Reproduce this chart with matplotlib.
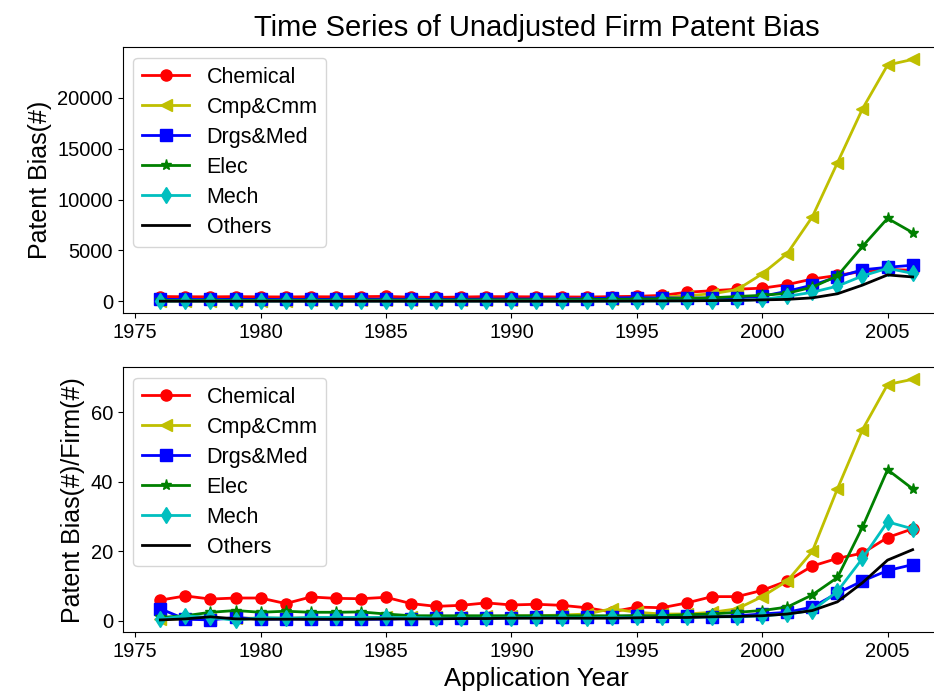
import numpy as np
import matplotlib
matplotlib.use("Agg")
import matplotlib.pyplot as plt

plt.rcParams['font.family'] = ['Liberation Sans', 'DejaVu Sans']

years = list(range(1976, 2007))
labels = ["Chemical", "Cmp&Cmm", "Drgs&Med", "Elec", "Mech", "Others"]

# top panel: patent bias counts
chem_top = [480, 460, 450, 470, 450, 440, 460, 450, 470, 490, 420, 400, 430, 470, 460,
            450, 440, 430, 470, 500, 590, 900, 1050, 1200, 1300, 1650, 2200, 2550, 2950, 3150, 3050]
cmp_top = [60, 60, 70, 80, 80, 80, 90, 100, 110, 120, 120, 130, 140, 160, 170,
           190, 210, 240, 280, 330, 420, 560, 750, 1150, 2700, 4700, 8300, 13600, 18900, 23200, 23750]
drg_top = [200, 190, 190, 200, 200, 190, 200, 200, 210, 220, 210, 200, 210, 230, 240,
           240, 250, 260, 330, 380, 350, 320, 330, 350, 500, 1000, 1600, 2400, 3100, 3350, 3550]
elec_top = [100, 100, 110, 110, 110, 110, 120, 120, 130, 130, 130, 130, 140, 150, 160,
            170, 180, 190, 210, 230, 260, 300, 360, 480, 600, 800, 1400, 2500, 5400, 8150, 6750]
mech_top = [40, 40, 40, 40, 40, 40, 40, 40, 40, 40, 40, 40, 40, 40, 40,
            40, 40, 40, 40, 40, 50, 60, 80, 100, 200, 500, 900, 1500, 2500, 3250, 2750]
oth_top = [20, 20, 20, 20, 20, 20, 20, 20, 20, 20, 20, 20, 20, 20, 20,
           20, 20, 20, 30, 40, 50, 60, 80, 100, 150, 200, 350, 750, 1600, 2600, 2400]

# bottom panel: patent bias per firm
chem_b = [6.0, 7.2, 6.3, 6.6, 6.6, 5.0, 6.9, 6.5, 6.4, 6.8, 5.0, 4.2, 4.5, 5.2, 4.6,
          4.8, 4.5, 3.8, 2.6, 4.0, 3.8, 5.2, 7.0, 7.0, 8.8, 11.5, 15.8, 18.0, 19.5, 24.0, 26.5]
cmp_b = [0.5, 0.6, 0.7, 0.8, 0.8, 0.8, 0.9, 0.9, 1.0, 1.0, 1.0, 1.1, 1.2, 1.3, 1.4,
         1.5, 1.7, 2.0, 3.5, 2.5, 2.0, 2.0, 2.5, 3.5, 7.0, 11.5, 20.0, 38.0, 55.0, 68.0, 69.5]
drg_b = [3.5, 0.5, 0.3, 1.0, 0.5, 0.6, 0.5, 0.5, 0.5, 0.5, 0.7, 0.8, 0.8, 0.9, 0.9,
         1.0, 1.0, 1.0, 1.2, 1.5, 1.3, 1.3, 1.2, 1.5, 2.0, 2.5, 4.0, 8.0, 11.5, 14.5, 16.2]
elec_b = [1.0, 1.5, 2.5, 3.0, 2.5, 2.8, 2.5, 2.5, 2.6, 2.0, 1.5, 1.5, 1.5, 1.5, 1.5,
          1.5, 1.5, 1.5, 1.5, 1.5, 1.5, 1.8, 2.0, 2.5, 3.0, 4.0, 7.5, 12.5, 27.0, 43.5, 38.0]
mech_b = [0.5, 1.5, 1.0, 0.2, 1.0, 0.8, 1.0, 1.0, 1.0, 1.0, 1.0, 0.8, 0.8, 0.8, 0.9,
          0.9, 0.9, 0.9, 1.0, 1.0, 1.0, 1.0, 1.2, 1.2, 1.5, 2.0, 3.0, 8.5, 18.0, 28.5, 26.5]
oth_b = [0.3, 0.6, 1.2, 0.6, 0.5, 0.5, 0.5, 0.5, 0.5, 0.6, 0.6, 0.6, 0.7, 0.7, 0.8,
         0.8, 0.8, 0.8, 0.8, 0.9, 1.0, 1.0, 1.2, 1.3, 1.5, 2.0, 3.0, 5.5, 11.0, 17.5, 20.5]

styles = [("r", "o"), ("y", "<"), ("b", "s"), ("g", "*"), ("c", "d"), ("k", None)]

fig = plt.figure(figsize=(9.34, 6.97), dpi=100)
# the original is cut off on the right, so the axes run past the figure edge
ax1 = fig.add_axes([0.1314, 0.5505, 0.886, 0.3816])
ax2 = fig.add_axes([0.1314, 0.0928, 0.886, 0.3803])

top_series = [chem_top, cmp_top, drg_top, elec_top, mech_top, oth_top]
bot_series = [chem_b, cmp_b, drg_b, elec_b, mech_b, oth_b]

for ax, series in [(ax1, top_series), (ax2, bot_series)]:
    for vals, lab, (col, mk) in zip(series, labels, styles):
        ax.plot(years, vals, color=col, marker=mk, markersize=8, linewidth=2, label=lab)
    ax.tick_params(labelsize=14.5)
    ax.legend(loc="upper left", fontsize=15.5, labelspacing=0.42, handlelength=2.2)

ax1.set_ylabel("Patent Bias(#)", fontsize=18)
ax2.set_ylabel("Patent Bias(#)/Firm(#)", fontsize=18)
ax2.set_xlabel("Application Year", fontsize=18.5)
ax1.set_title("Time Series of Unadjusted Firm Patent Bias", fontsize=21, pad=8)

fig.savefig("out.png", dpi=100)
